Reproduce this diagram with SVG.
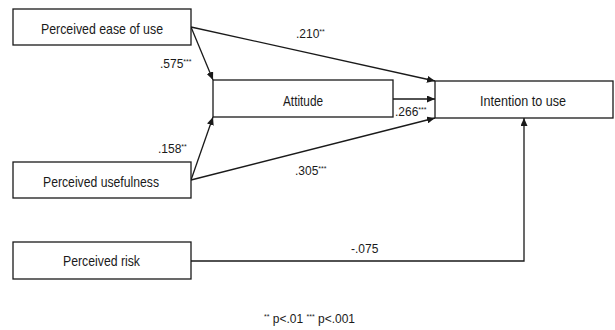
<svg xmlns="http://www.w3.org/2000/svg" width="615" height="330" viewBox="0 0 615 330">
<style>
.box{fill:#fff;stroke:#1a1a1a;stroke-width:1.3}
.lbl{font-family:"Liberation Sans",Arial,sans-serif;font-size:15px;fill:#1a1a1a}
.coef{font-family:"Liberation Sans",Arial,sans-serif;font-size:12px;fill:#1a1a1a}
.st{font-size:7px}
.edge{fill:none;stroke:#1a1a1a;stroke-width:1.3}
</style>
<defs>
<marker id="arr" markerUnits="userSpaceOnUse" markerWidth="9" markerHeight="7" refX="8" refY="3.5" orient="auto">
<path d="M0,0 L8,3.5 L0,7 z" fill="#1a1a1a"/>
</marker>
</defs>
<rect width="615" height="330" fill="#fff"/>
<g id="connectors">
<path class="edge" d="M191,27 L213,80" marker-end="url(#arr)"/>
<path class="edge" d="M191,27 L435,81" marker-end="url(#arr)"/>
<path class="edge" d="M393,99 L435,99" marker-end="url(#arr)"/>
<path class="edge" d="M191,180 L213,117" marker-end="url(#arr)"/>
<path class="edge" d="M191,180 L435,118" marker-end="url(#arr)"/>
<path class="edge" d="M191,261 H524 V118" marker-end="url(#arr)"/>
<text class="coef" x="160" y="68">.575<tspan class="st" dy="-4">***</tspan></text>
<text class="coef" x="296" y="38">.210<tspan class="st" dy="-4">**</tspan></text>
<text class="coef" x="395" y="116">.266<tspan class="st" dy="-4">***</tspan></text>
<text class="coef" x="158" y="153">.158<tspan class="st" dy="-4">**</tspan></text>
<text class="coef" x="295" y="175">.305<tspan class="st" dy="-4">***</tspan></text>
<text class="coef" x="351" y="253">-.075</text>
</g>
<g id="ease">
<rect class="box" x="13" y="9" width="178" height="36"/>
<text class="lbl" x="41" y="34" textLength="122" lengthAdjust="spacingAndGlyphs">Perceived ease of use</text>
</g>
<g id="attitude">
<rect class="box" x="213" y="80" width="180" height="37"/>
<text class="lbl" x="283" y="106" textLength="40" lengthAdjust="spacingAndGlyphs">Attitude</text>
</g>
<g id="intention">
<rect class="box" x="435" y="81" width="178" height="37"/>
<text class="lbl" x="480" y="106" textLength="86" lengthAdjust="spacingAndGlyphs">Intention to use</text>
</g>
<g id="usefulness">
<rect class="box" x="13" y="162" width="178" height="36"/>
<text class="lbl" x="43" y="187" textLength="116" lengthAdjust="spacingAndGlyphs">Perceived usefulness</text>
</g>
<g id="risk">
<rect class="box" x="13" y="242" width="178" height="37"/>
<text class="lbl" x="63" y="266" textLength="77" lengthAdjust="spacingAndGlyphs">Perceived risk</text>
</g>
<g id="footnote">
<text class="coef" x="264" y="323"><tspan class="st" dy="-4">**</tspan><tspan dy="4"> p&lt;.01 </tspan><tspan class="st" dy="-4">***</tspan><tspan dy="4"> p&lt;.001</tspan></text>
</g>
</svg>
